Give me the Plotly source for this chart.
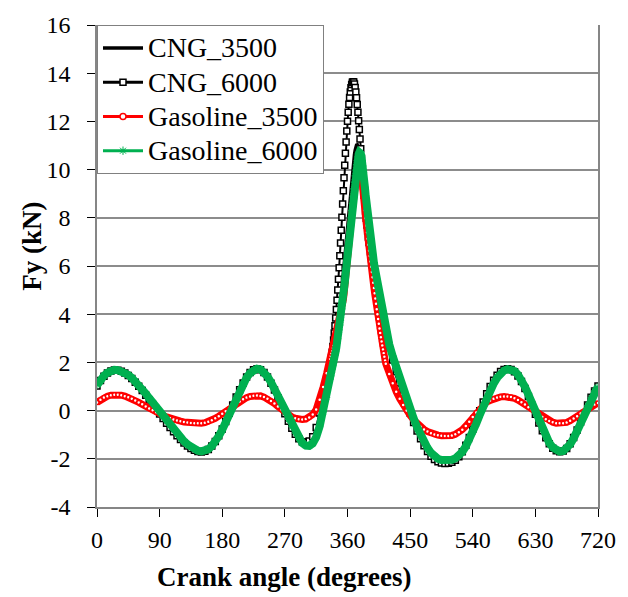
import plotly.graph_objects as go

# Crank angle samples (degrees)
angles = list(range(0, 335, 5)) + list(range(335, 416)) + list(range(420, 725, 5))

x_ticks = [0, 90, 180, 270, 360, 450, 540, 630, 720]
y_ticks = [-4, -2, 0, 2, 4, 6, 8, 10, 12, 14, 16]

cng_3500 = [
    0.33, 0.44, 0.53, 0.59, 0.63, 0.65, 0.65, 0.63, 0.59, 0.54,
    0.48, 0.41, 0.33, 0.25, 0.16, 0.08, 0.00, -0.08, -0.15, -0.22,
    -0.28, -0.34, -0.39, -0.43, -0.46, -0.49, -0.51, -0.52, -0.53, -0.53,
    -0.52, -0.50, -0.46, -0.40, -0.32, -0.23, -0.13, -0.03, 0.07, 0.17,
    0.27, 0.37, 0.46, 0.53, 0.58, 0.61, 0.62, 0.60, 0.55, 0.48,
    0.39, 0.28, 0.16, 0.04, -0.08, -0.18, -0.27, -0.33, -0.37, -0.38,
    -0.36, -0.30, -0.18, 0.02, 0.38, 0.90, 1.48,
    2.00, 2.13, 2.26, 2.39, 2.53, 2.67, 2.81, 2.96, 3.11, 3.27,
    3.43, 3.60, 3.78, 3.97, 4.18, 4.45, 4.75, 5.07, 5.40, 5.73,
    6.06, 6.39, 6.72, 7.05, 7.38, 7.71, 8.04, 8.37, 8.70, 9.02,
    9.33, 9.63, 9.91, 10.17, 10.41, 10.62, 10.80, 10.94, 11.02, 11.03,
    10.96, 10.81, 10.60, 10.35, 10.07, 9.78, 9.49, 9.20, 8.92, 8.65,
    8.39, 8.14, 7.90, 7.67, 7.45, 7.24, 7.04, 6.85, 6.66, 6.47,
    6.28, 6.09, 5.90, 5.71, 5.52, 5.33, 5.14, 4.95, 4.76, 4.57,
    4.39, 4.21, 4.03, 3.86, 3.69, 3.52, 3.36, 3.20, 3.05, 2.90,
    2.76,
    2.55, 2.00, 1.50, 1.05, 0.62, 0.25, -0.08, -0.35, -0.53, -0.67,
    -0.78, -0.88, -0.95, -1.00, -1.03, -1.05, -1.06, -1.05, -1.03, -0.98,
    -0.90, -0.79, -0.64, -0.46, -0.27, -0.08, 0.09, 0.24, 0.36, 0.43,
    0.50, 0.55, 0.58, 0.59, 0.59, 0.57, 0.52, 0.45, 0.36, 0.26,
    0.15, 0.05, -0.06, -0.16, -0.26, -0.35, -0.42, -0.47, -0.51, -0.52,
    -0.52, -0.48, -0.41, -0.32, -0.22, -0.11, -0.01, 0.09, 0.18, 0.26,
    0.33,
]

cng_6000 = [
    1.02, 1.25, 1.43, 1.56, 1.64, 1.68, 1.67, 1.63, 1.56, 1.46,
    1.33, 1.18, 1.01, 0.83, 0.64, 0.44, 0.25, 0.05, -0.14, -0.33,
    -0.52, -0.70, -0.88, -1.04, -1.20, -1.34, -1.47, -1.57, -1.65, -1.70,
    -1.72, -1.69, -1.61, -1.47, -1.28, -1.04, -0.76, -0.45, -0.11, 0.23,
    0.56, 0.87, 1.15, 1.39, 1.58, 1.70, 1.74, 1.70, 1.58, 1.39,
    1.14, 0.85, 0.53, 0.20, -0.13, -0.44, -0.73, -0.98, -1.17, -1.29,
    -1.32, -1.26, -1.08, -0.70, -0.10, 0.60, 1.30,
    1.85, 2.00, 2.20, 2.42, 2.66, 2.93, 3.22, 3.52, 3.84, 4.20,
    4.58, 5.00, 5.45, 5.93, 6.43, 6.95, 7.48, 8.02, 8.57, 9.12,
    9.66, 10.18, 10.68, 11.15, 11.60, 12.01, 12.38, 12.71, 12.99, 13.22,
    13.40, 13.53, 13.62, 13.65, 13.63, 13.55, 13.41, 13.22, 12.98, 12.70,
    12.38, 12.03, 11.66, 11.27, 10.87, 10.47, 10.07, 9.68, 9.30, 8.94,
    8.60, 8.28, 7.98, 7.70, 7.44, 7.20, 6.98, 6.78, 6.59, 6.41,
    6.24, 6.08, 5.92, 5.77, 5.62, 5.47, 5.32, 5.17, 5.02, 4.87,
    4.72, 4.57, 4.42, 4.27, 4.12, 3.97, 3.82, 3.68, 3.54, 3.40,
    3.27,
    2.62, 2.10, 1.62, 1.16, 0.73, 0.31, -0.10, -0.49, -0.85, -1.17,
    -1.46, -1.70, -1.89, -2.03, -2.12, -2.17, -2.19, -2.18, -2.14, -2.06,
    -1.92, -1.71, -1.44, -1.12, -0.77, -0.39, -0.01, 0.36, 0.70, 1.00,
    1.26, 1.47, 1.62, 1.71, 1.74, 1.71, 1.61, 1.44, 1.21, 0.92,
    0.58, 0.22, -0.15, -0.51, -0.84, -1.13, -1.38, -1.56, -1.67, -1.71,
    -1.68, -1.57, -1.38, -1.12, -0.81, -0.47, -0.12, 0.23, 0.55, 0.81,
    1.02,
]

gasoline_3500 = [
    0.34, 0.45, 0.54, 0.60, 0.64, 0.66, 0.66, 0.64, 0.60, 0.55,
    0.49, 0.42, 0.34, 0.26, 0.17, 0.09, 0.01, -0.07, -0.14, -0.20,
    -0.26, -0.32, -0.37, -0.41, -0.44, -0.47, -0.49, -0.51, -0.52, -0.52,
    -0.52, -0.50, -0.46, -0.40, -0.32, -0.23, -0.13, -0.03, 0.08, 0.18,
    0.28, 0.38, 0.47, 0.54, 0.59, 0.62, 0.63, 0.61, 0.56, 0.49,
    0.40, 0.29, 0.17, 0.05, -0.07, -0.17, -0.26, -0.32, -0.36, -0.37,
    -0.35, -0.29, -0.16, 0.05, 0.45, 0.98, 1.55,
    2.15, 2.27, 2.38, 2.49, 2.60, 2.71, 2.82, 2.93, 3.04, 3.15,
    3.27, 3.39, 3.51, 3.64, 3.77, 3.91, 4.06, 4.22, 4.40, 4.60,
    4.82, 5.06, 5.32, 5.60, 5.90, 6.20, 6.50, 6.82, 7.14, 7.46,
    7.78, 8.10, 8.42, 8.72, 9.01, 9.28, 9.52, 9.74, 9.93, 10.09,
    10.21, 10.28, 10.30, 10.24, 10.10, 9.88, 9.60, 9.29, 8.95, 8.62,
    8.30, 7.98, 7.68, 7.40, 7.13, 6.88, 6.64, 6.41, 6.19, 5.97,
    5.75, 5.53, 5.31, 5.09, 4.87, 4.65, 4.43, 4.21, 4.00, 3.80,
    3.60, 3.41, 3.22, 3.04, 2.87, 2.70, 2.54, 2.38, 2.23, 2.08,
    1.94,
    1.52, 1.13, 0.78, 0.49, 0.23, 0.00, -0.20, -0.38, -0.54, -0.67,
    -0.78, -0.87, -0.94, -0.99, -1.02, -1.04, -1.05, -1.05, -1.03, -0.98,
    -0.90, -0.79, -0.64, -0.46, -0.27, -0.08, 0.09, 0.24, 0.36, 0.42,
    0.49, 0.54, 0.57, 0.58, 0.58, 0.56, 0.51, 0.44, 0.35, 0.25,
    0.14, 0.04, -0.07, -0.17, -0.27, -0.36, -0.43, -0.48, -0.52, -0.53,
    -0.53, -0.49, -0.42, -0.33, -0.23, -0.12, -0.02, 0.08, 0.17, 0.25,
    0.32,
]

gasoline_6000 = [
    1.05, 1.28, 1.45, 1.57, 1.65, 1.69, 1.68, 1.64, 1.57, 1.48,
    1.36, 1.22, 1.06, 0.89, 0.71, 0.52, 0.33, 0.14, -0.05, -0.24,
    -0.43, -0.61, -0.79, -0.96, -1.12, -1.27, -1.40, -1.51, -1.60, -1.66,
    -1.69, -1.67, -1.60, -1.47, -1.29, -1.06, -0.79, -0.48, -0.15, 0.19,
    0.52, 0.84, 1.12, 1.37, 1.56, 1.69, 1.74, 1.71, 1.60, 1.42,
    1.18, 0.90, 0.59, 0.27, -0.05, -0.37, -0.67, -0.94, -1.17, -1.35,
    -1.45, -1.46, -1.36, -1.10, -0.65, -0.05, 0.55,
    1.30, 1.44, 1.58, 1.72, 1.86, 2.00, 2.15, 2.30, 2.46, 2.62,
    2.80, 2.98, 3.16, 3.35, 3.55, 3.75, 3.98, 4.22, 4.47, 4.73,
    5.00, 5.29, 5.58, 5.88, 6.19, 6.50, 6.80, 7.10, 7.40, 7.70,
    8.00, 8.30, 8.60, 8.90, 9.20, 9.48, 9.74, 9.98, 10.20, 10.38,
    10.53, 10.64, 10.71, 10.72, 10.66, 10.55, 10.38, 10.15, 9.88, 9.58,
    9.27, 8.96, 8.65, 8.35, 8.06, 7.79, 7.54, 7.30, 7.08, 6.87,
    6.67, 6.48, 6.30, 6.13, 5.96, 5.79, 5.62, 5.45, 5.28, 5.11,
    4.94, 4.77, 4.60, 4.44, 4.28, 4.12, 3.96, 3.81, 3.66, 3.51,
    3.37,
    2.75, 2.25, 1.78, 1.33, 0.90, 0.48, 0.07, -0.32, -0.68, -1.01,
    -1.30, -1.55, -1.75, -1.90, -2.00, -2.05, -2.07, -2.07, -2.04, -1.98,
    -1.87, -1.71, -1.49, -1.21, -0.89, -0.54, -0.18, 0.18, 0.52, 0.84,
    1.12, 1.36, 1.54, 1.66, 1.72, 1.72, 1.64, 1.49, 1.27, 0.99,
    0.66, 0.30, -0.08, -0.44, -0.78, -1.08, -1.34, -1.53, -1.65, -1.70,
    -1.68, -1.58, -1.40, -1.15, -0.84, -0.50, -0.14, 0.22, 0.55, 0.82,
    1.00,
]

series_names = ["CNG_3500", "CNG_6000", "Gasoline_3500", "Gasoline_6000"]

FONT = "'Liberation Serif', 'Times New Roman', Tinos, 'DejaVu Serif', serif"
GREEN = "#00B050"


def legend_label(name):
    return "<span style='font-size:28px'>" + name + "</span>"


fig = go.Figure()

# --- data traces (no legend) ---
fig.add_trace(go.Scatter(
    x=angles, y=cng_3500, mode="lines", showlegend=False,
    line=dict(color="black", width=3.5), legendgroup="a",
))
fig.add_trace(go.Scatter(
    x=angles, y=cng_6000, mode="lines+markers", showlegend=False,
    line=dict(color="black", width=2), legendgroup="b",
    marker=dict(symbol="square", size=6, color="white",
                line=dict(color="black", width=1.5)),
))
fig.add_trace(go.Scatter(
    x=angles, y=gasoline_3500, mode="lines+markers", showlegend=False,
    line=dict(color="red", width=7), legendgroup="c",
    marker=dict(symbol="circle", size=4, color="white",
                line=dict(color="red", width=1.5)),
))
fig.add_trace(go.Scatter(
    x=angles, y=gasoline_6000, mode="lines+markers", showlegend=False,
    line=dict(color=GREEN, width=8), legendgroup="d",
    marker=dict(symbol="asterisk-open", size=6,
                line=dict(color="#2fd07a", width=1)),
))

# --- legend entries (styled like the reference legend) ---
fig.add_trace(go.Scatter(
    x=[None], y=[None], name=legend_label(series_names[0]), mode="lines",
    line=dict(color="black", width=3.5), legendgroup="a",
))
fig.add_trace(go.Scatter(
    x=[None], y=[None], name=legend_label(series_names[1]), mode="lines+markers",
    line=dict(color="black", width=3), legendgroup="b",
    marker=dict(symbol="square", size=6, color="white",
                line=dict(color="black", width=1.5)),
))
fig.add_trace(go.Scatter(
    x=[None], y=[None], name=legend_label(series_names[2]), mode="lines+markers",
    line=dict(color="red", width=3), legendgroup="c",
    marker=dict(symbol="circle", size=6, color="white",
                line=dict(color="red", width=1.5)),
))
fig.add_trace(go.Scatter(
    x=[None], y=[None], name=legend_label(series_names[3]), mode="lines+markers",
    line=dict(color=GREEN, width=3), legendgroup="d",
    marker=dict(symbol="asterisk-open", size=7,
                line=dict(color="#7fd7a7", width=1)),
))

fig.update_layout(
    width=628, height=597,
    margin=dict(l=97, r=23, t=18, b=90),
    paper_bgcolor="white", plot_bgcolor="white",
    font=dict(family=FONT, color="black"),
    showlegend=True,
    legend=dict(
        x=0, y=1, xanchor="left", yanchor="top",
        bgcolor="white", bordercolor="#808080", borderwidth=1,
        font=dict(family=FONT, size=24, color="black"),
        tracegroupgap=0, itemwidth=40,
    ),
    xaxis=dict(
        range=[0, 720], tickvals=x_ticks, ticktext=[str(v) for v in x_ticks],
        showgrid=False, zeroline=False,
        showline=True, linecolor="#868686", linewidth=1.5,
        ticks="outside", ticklen=8, tickcolor="black", tickwidth=1,
        tickfont=dict(family=FONT, size=24, color="black"),
        ticklabelstandoff=2,
    ),
    yaxis=dict(
        range=[-4, 16], tickvals=y_ticks, ticktext=[str(v) for v in y_ticks],
        showgrid=True, gridcolor="#8c8c8c", gridwidth=1.5, zeroline=False,
        showline=True, linecolor="#868686", linewidth=1.5, mirror=True,
        ticks="outside", ticklen=8, tickcolor="black", tickwidth=1,
        tickfont=dict(family=FONT, size=24, color="black"),
        ticklabelstandoff=12,
    ),
    annotations=[
        dict(text="<b>Crank angle (degrees)</b>", xref="paper", yref="paper",
             x=0.374, y=-0.145, xanchor="center", yanchor="middle",
             showarrow=False, font=dict(family=FONT, size=27, color="black")),
        dict(text="<b>Fy (kN)</b>", xref="paper", yref="paper",
             x=-0.13, y=0.542, xanchor="center", yanchor="middle",
             textangle=-90, showarrow=False,
             font=dict(family=FONT, size=27, color="black")),
    ],
)

fig.write_html("out.html")
